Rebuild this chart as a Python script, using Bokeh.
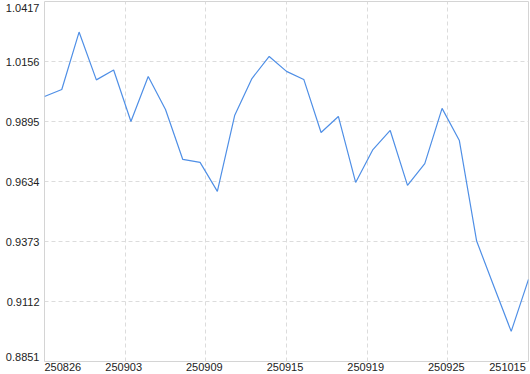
import numpy as np
from bokeh.plotting import figure
from bokeh.models import Range1d, FixedTicker, ColumnDataSource, CustomJSTickFormatter
from bokeh.embed import file_html
from bokeh.resources import INLINE

# ---- data ----
values = [1.0004, 1.0034, 1.0284, 1.0076, 1.0119, 0.9895, 1.0091, 0.9947,
          0.9730, 0.9717, 0.9591, 0.9921, 1.0082, 1.0178, 1.0113, 1.0078,
          0.9847, 0.9917, 0.9630, 0.9773, 0.9856, 0.9617, 0.9712, 0.9952,
          0.9812, 0.9375, 0.9177, 0.8982, 0.9208]
x_labels = ["250826", "250903", "250909", "250915", "250919", "250925", "251015"]
y_ticks = [1.0417, 1.0156, 0.9895, 0.9634, 0.9373, 0.9112, 0.8851]
y_tick_labels = ["1.0417", "1.0156", "0.9895", "0.9634", "0.9373", "0.9112", "0.8851"]

n = len(values)
idx = list(range(n))
x_grid_pos = list(np.linspace(0, n - 1, len(x_labels)))

W, H = 530, 374
ML, MR, MT, MB = 44, 2, 1, 13
frame_w, frame_h = W - ML - MR, H - MT - MB
ymin, ymax = min(y_ticks), max(y_ticks)
px_x = frame_w / (n - 1)
px_y = frame_h / (ymax - ymin)

# label anchor positions: end labels nudged inward so they stay inside the canvas
x_label_pos = list(x_grid_pos)
x_label_pos[0] += 18.3 / px_x
x_label_pos[-1] -= 21.0 / px_x
x_label_pos = [v - 1.5 / px_x if 0 < i < len(x_label_pos) - 1 else v for i, v in enumerate(x_label_pos)]
y_label_pos = list(y_ticks)
y_label_pos[0] -= 6.0 / px_y
y_label_pos[-1] += 5.0 / px_y

FONT = "Liberation Sans"
FS = "11px"
TXT = "#222222"
GRID = "#dcdcdc"

p = figure(width=W, height=H, output_backend="svg", toolbar_location=None,
           x_range=Range1d(0, n - 1), y_range=Range1d(ymin, ymax),
           min_border_left=ML, min_border_right=MR, min_border_top=MT, min_border_bottom=MB)
p.outline_line_color = "#d4d4d4"
p.outline_line_width = 1
p.background_fill_color = "white"
p.border_fill_color = "white"

p.xgrid.ticker = FixedTicker(ticks=x_grid_pos[1:-1])
p.ygrid.ticker = FixedTicker(ticks=y_ticks[1:-1])
for g in (p.xgrid, p.ygrid):
    g.grid_line_color = GRID
    g.grid_line_dash = "4 3"

p.xaxis.ticker = FixedTicker(ticks=x_label_pos)
p.xaxis.formatter = CustomJSTickFormatter(args=dict(labels=x_labels), code="return labels[index]")
p.yaxis.ticker = FixedTicker(ticks=y_label_pos)
p.yaxis.formatter = CustomJSTickFormatter(args=dict(labels=y_tick_labels), code="return labels[index]")
for ax in (p.xaxis, p.yaxis):
    ax.axis_line_color = None
    ax.major_tick_line_color = None
    ax.minor_tick_line_color = None
    ax.major_tick_out = 0
    ax.major_tick_in = 0
    ax.minor_tick_out = 0
    ax.minor_tick_in = 0
    ax.major_label_text_font = FONT
    ax.major_label_text_font_size = FS
    ax.major_label_text_color = TXT
p.xaxis.major_label_standoff = 1
p.yaxis.major_label_standoff = 5

src = ColumnDataSource(dict(x=idx, y=values))
p.line("x", "y", source=src, line_color="#4f8fe6", line_width=1.2)

open("out.html", "w").write(file_html(p, INLINE))
